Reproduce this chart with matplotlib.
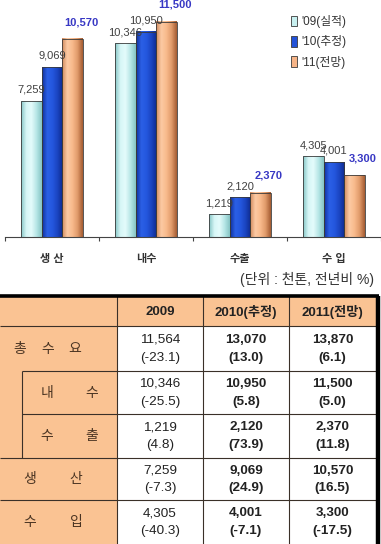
import numpy as np
import matplotlib
matplotlib.use("Agg")
import matplotlib.pyplot as plt
from matplotlib.colors import LinearSegmentedColormap
from matplotlib.patches import Rectangle

plt.rcParams['font.family'] = ['Liberation Sans', 'Noto Sans CJK KR', 'DejaVu Sans']

# --- 막대그래프 데이터 (천톤) ---
CATS = ['생 산', '내수', '수출', '수 입']
Y09 = [7259, 10346, 1219, 4305]
Y10 = [9069, 10950, 2120, 4001]
Y11 = [10570, 11500, 2370, 3300]
SERIES = ["'09(실적)", "'10(추정)", "'11(전망)"]

# --- 표 데이터 (천톤, 전년비 %) ---
COLS = ['2009', '2010(추정)', '2011(전망)']
ROWS = ['총수요', '내수', '수출', '생산', '수입']
VALUES = [[11564, 13070, 13870],
          [10346, 10950, 11500],
          [1219, 2120, 2370],
          [7259, 9069, 10570],
          [4305, 4001, 3300]]
PCTS = [[-23.1, 13.0, 6.1],
        [-25.5, 5.8, 5.0],
        [4.8, 73.9, 11.8],
        [-7.3, 24.9, 16.5],
        [-40.3, -7.1, -17.5]]

W, H = 381, 544
PEACH = '#fac393'
INK = '#222222'

# 막대 그라데이션 (원통형 느낌)
CMAPS = [LinearSegmentedColormap.from_list('c09', ['#86c6c6', '#d6f6f6', '#e4fbfb', '#b6e6e6', '#86c4c4']),
         LinearSegmentedColormap.from_list('c10', ['#10309c', '#2b60e6', '#2457de', '#1a44c0', '#0e2a8c']),
         LinearSegmentedColormap.from_list('c11', ['#d08a5c', '#fccaa4', '#f8ba8c', '#e09a6a', '#a45c32'])]
SOLID = ['#c8f0f0', '#2252d8', '#f6b487']

fig = plt.figure(figsize=(W / 100, H / 100), dpi=100, facecolor='white')

# ---------- 표 (픽셀 좌표 축) ----------
tab = fig.add_axes([0, 0, 1, 1], zorder=0)
tab.set_xlim(0, W); tab.set_ylim(H, 0); tab.axis('off')
XE = [0, 117, 203, 289, 376]
YE = [296, 326, 371, 414, 458, 500, 544]

tab.add_patch(Rectangle((0, YE[0]), XE[-1], YE[1] - YE[0], fc=PEACH, ec='none'))
tab.add_patch(Rectangle((0, YE[1]), XE[1], YE[-1] - YE[1], fc=PEACH, ec='none'))
lc, lw = '#3a3028', 0.8
tab.hlines(YE[1], 0, XE[-1], color=lc, lw=lw)
tab.hlines([YE[2], YE[3]], 22, XE[-1], color=lc, lw=lw)
tab.hlines([YE[4], YE[5]], 0, XE[-1], color=lc, lw=lw)
tab.vlines(22, YE[2], YE[4], color=lc, lw=lw)
tab.vlines(XE[1:4], YE[0], YE[-1], color=lc, lw=lw)
tab.hlines(YE[0], 0, 379, color='black', lw=2.6)
tab.vlines(377.5, YE[0], YE[-1], color='black', lw=3.2)

for c, name in enumerate(COLS):
    tab.text((XE[c + 1] + XE[c + 2]) / 2, (YE[0] + YE[1]) / 2 + 1, name, ha='center', va='center',
             fontsize=9.5, fontweight='bold', color=INK)

# 행 제목: 글자 간격 (중심, 간격)
LABEL_POS = [(47.5, 27.5), (69.5, 45), (69.5, 45), (53, 46), (53, 46)]
for r, name in enumerate(ROWS):
    yc = (YE[r + 1] + YE[r + 2]) / 2
    cx, sp = LABEL_POS[r]
    n = len(name)
    for k, ch in enumerate(name):
        tab.text(cx + (k - (n - 1) / 2) * sp, yc, ch, ha='center', va='center',
                 fontsize=10, color='#4a3422')
    for c in range(3):
        xc = (XE[c + 1] + XE[c + 2]) / 2
        wt = 'normal' if c == 0 else 'bold'
        tab.text(xc, yc - 8.5, f'{VALUES[r][c]:,}', ha='center', va='center',
                 fontsize=9.7, fontweight=wt, color=INK)
        tab.text(xc, yc + 9, f'({PCTS[r][c]:.1f})', ha='center', va='center',
                 fontsize=9.7, fontweight=wt, color=INK)

# ---------- 막대그래프 ----------
ax = fig.add_axes([5 / W, 1 - 237 / H, 376 / W, 237 / H], zorder=1)
ax.patch.set_alpha(0)
x = np.arange(len(CATS))
bw = 0.22
handles = []
for i, (vals, cm) in enumerate(zip([Y09, Y10, Y11], CMAPS)):
    xs = x + (i - 1) * bw
    bars = ax.bar(xs, vals, width=bw, facecolor='none', edgecolor='#3a3a3a', linewidth=0.6, zorder=3)
    for b in bars:
        x0, w, h = b.get_x(), b.get_width(), b.get_height()
        ax.imshow(np.linspace(0, 1, 64).reshape(1, -1), cmap=cm, extent=(x0, x0 + w, 0, h),
                  aspect='auto', zorder=2, interpolation='bilinear')
    handles.append(Rectangle((0, 0), 1, 1, fc=SOLID[i], ec='#3a3a3a', lw=0.6))
    for xv, v in zip(xs, vals):
        if i < 2:
            ax.annotate(f'{v:,}', (xv, v), xytext=(0, 8), textcoords='offset points',
                        ha='center', va='center', fontsize=8, color='#404040')
        else:
            ax.annotate(f'{v:,}', (xv, v), xytext=(6, 12), textcoords='offset points',
                        ha='center', va='center', fontsize=8, fontweight='bold', color='#3838c4',
                        annotation_clip=False)

ax.set_xlim(-0.5, 3.5)
ax.set_ylim(0, 12650)
for s in ['left', 'right', 'top']:
    ax.spines[s].set_visible(False)
ax.spines['bottom'].set_color('#444444')
ax.spines['bottom'].set_linewidth(0.8)
ax.set_yticks([])
ax.set_xticks(np.arange(-0.5, 4, 1.0))
ax.set_xticklabels([])
ax.tick_params(axis='x', direction='out', length=3, width=0.8, color='#444444')
for xi, name in zip(x, CATS):
    ax.annotate(name, (xi, 0), xytext=(0, -16), textcoords='offset points', ha='center',
                va='center', fontsize=8, fontweight='bold', color='#333333', annotation_clip=False)

fig.legend(handles, SERIES, loc='upper left', bbox_to_anchor=(291 / W, 1 - 15 / H),
           frameon=False, fontsize=8.5, handlelength=0.55, handleheight=1.0, handletextpad=0.3,
           labelspacing=0.62, borderpad=0, borderaxespad=0, labelcolor='#333333')

fig.text(374 / W, 1 - 279 / H, '(단위 : 천톤, 전년비 %)', ha='right', va='center',
         fontsize=10, color='#333333')

fig.savefig('out.png', dpi=100, facecolor='white')
